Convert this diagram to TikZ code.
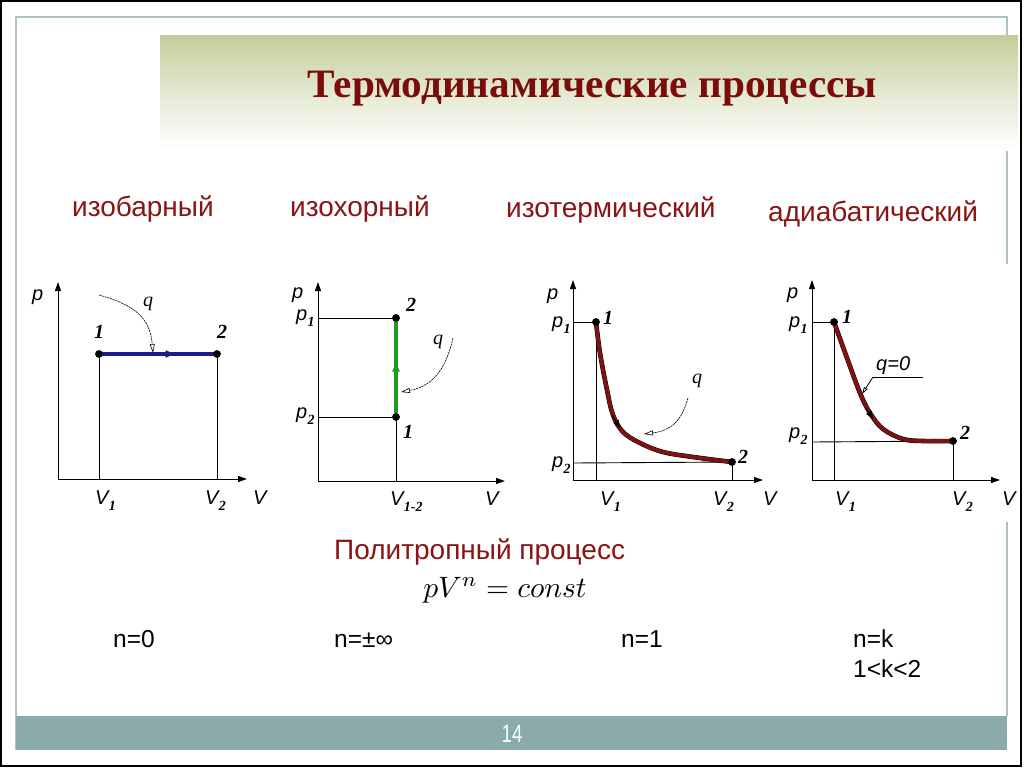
\documentclass[tikz,border=0pt]{standalone}
\usepackage{fontspec}
\usepackage{graphicx}
\setmainfont{Liberation Sans}
\newfontfamily\tnr{Liberation Serif}
\usetikzlibrary{arrows.meta,decorations.markings}
\definecolor{frameC}{HTML}{AEC0C6}
\definecolor{bandG}{HTML}{C3CE9B}
\definecolor{barC}{HTML}{8BABAB}
\definecolor{titleC}{HTML}{7A0C0C}
\definecolor{subC}{HTML}{8A1414}
\definecolor{navyC}{HTML}{1C1C8A}
\definecolor{greenC}{HTML}{1E9A1E}
\definecolor{curveC}{HTML}{7E1212}
\newcommand\sbs[2]{#1\kern0.3pt\raisebox{-0.32em}{\tnr\fontsize{14}{14}\selectfont\itshape\bfseries #2}}
\begin{document}
\begin{tikzpicture}[x=1pt,y=-1pt,
  axisline/.style={line width=1pt,-{Triangle[length=9pt,width=6pt]}},
  proj/.style={line width=0.9pt},
  ptdot/.style={circle,fill=black,inner sep=0pt,minimum size=7.5pt},
  axlab/.style={anchor=base west,inner sep=0pt,font=\fontsize{20}{20}\selectfont\itshape},
  ptlab/.style={anchor=base west,inner sep=0pt,font=\tnr\fontsize{20}{20}\selectfont\itshape\bfseries},
  qlab/.style={anchor=base west,inner sep=0pt,font=\tnr\fontsize{20}{20}\selectfont\itshape},
  qline/.style={line width=0.6pt,dash pattern=on 2.2pt off 0.7pt,-{Triangle[open,length=9pt,width=5pt]}},
  subtitle/.style={anchor=base west,inner sep=0pt,text=subC,font=\fontsize{28}{30}\selectfont},
  ntext/.style={anchor=base west,inner sep=0pt,font=\fontsize{24.5}{26}\selectfont},
  midarrow/.style={postaction={decorate},decoration={markings,mark=at position #1 with {\arrow{Triangle[length=9pt,width=7pt]}}}},
  blackedge/.style={line width=4.6pt,black,line cap=round},
  redcurve/.style={line width=3.8pt,curveC,line cap=round}
]
\useasboundingbox (0,0) rectangle (1024,768);
\fill[white] (0,0) rectangle (1024,768);
% outer and inner frames
\draw[line width=2.2pt] (1.1,1.1) rectangle (1021,766);
\draw[frameC,line width=1.5pt] (1007,36) -- (1007,17) -- (16,17) -- (16,750);
\draw[frameC,line width=1.5pt] (1007,150) -- (1007,264);
\draw[frameC,line width=1.5pt] (1007,522) -- (1007,716);
% title band
\shade[top color=bandG,bottom color=white,middle color=bandG!45] (160,36) rectangle (1018,150);
\node[text=titleC,inner sep=0pt] (title) at (592.5,89) {\resizebox*{569pt}{35pt}{\tnr\bfseries Термодинамические процессы}};
% footer bar
\fill[barC] (16,716) rectangle (1007,750);
\node[text=white,inner sep=0pt] (pagenum) at (512,734) {\scalebox{0.75}[1]{\fontsize{25}{25}\selectfont 14}};
% subtitles
\node[subtitle] (t1) at (72,216) {изобарный};
\node[subtitle] (t2) at (290,216) {изохорный};
\node[subtitle] (t3) at (506,217) {изотермический};
\node[subtitle] (t4) at (768,221) {адиабатический};

% ---------- graph 1: isobaric ----------
\coordinate (a0) at (58,479);
\coordinate (ay) at (58,282);
\coordinate (ax) at (247,479);
\draw[axisline] (a0) -- (ay);
\draw[axisline] (a0) -- (ax);
\node[ptdot] (a1) at (99,354) {};
\node[ptdot] (a2) at (217,354) {};
\coordinate (a1v) at (99,479);
\coordinate (a2v) at (217,479);
\draw[proj] (a1.center) -- (a1v);
\draw[proj] (a2.center) -- (a2v);
\draw[navyC,line width=3.2pt,midarrow=0.64] (a1.center) -- (a2.center);
\node[ptdot] at (a1) {};
\node[ptdot] at (a2) {};
\node[axlab] (ap) at (32,300) {p};
\node[axlab] (av1) at (95,504) {\sbs{V}{1}};
\node[axlab] (av2) at (205,504) {\sbs{V}{2}};
\node[axlab] (av) at (253,504) {V};
\node[ptlab] (an1) at (94,338) {1};
\node[ptlab] (an2) at (217,338) {2};
\node[qlab] (aq) at (143,306) {q};
\coordinate (aqs) at (99,295);
\coordinate (aqe) at (153,353);
\draw[qline] (aqs) .. controls (135,305) and (150,318) .. (aqe);

% ---------- graph 2: isochoric ----------
\coordinate (b0) at (318,481);
\coordinate (by) at (318,282);
\coordinate (bx) at (505,481);
\draw[axisline] (b0) -- (by);
\draw[axisline] (b0) -- (bx);
\node[ptdot] (b2) at (396,318) {};
\node[ptdot] (b1) at (396,417) {};
\coordinate (bp1) at (318,318);
\coordinate (bp2) at (318,417);
\coordinate (bv) at (396,481);
\draw[proj] (bp1) -- (b2.center);
\draw[proj] (bp2) -- (b1.center);
\draw[proj] (b1.center) -- (bv);
\draw[greenC,line width=3.2pt,midarrow=0.55] (b1.center) -- (b2.center);
\node[ptdot] at (b1) {};
\node[ptdot] at (b2) {};
\node[axlab] (bp) at (292,298) {p};
\node[axlab] (bl1) at (296,320) {\sbs{p}{1}};
\node[axlab] (bl2) at (296,418) {\sbs{p}{2}};
\node[ptlab] (bn2) at (406,311) {2};
\node[ptlab] (bn1) at (403,438) {1};
\node[axlab] (bv12) at (390,505) {\sbs{V}{1-2}};
\node[axlab] (bvv) at (485,505) {V};
\node[qlab] (bq) at (433,344) {q};
\coordinate (bqs) at (453,338);
\coordinate (bqe) at (401,392);
\draw[qline] (bqs) .. controls (447,365) and (435,386) .. (bqe);

% ---------- graph 3: isothermal ----------
\coordinate (c0) at (573,480);
\coordinate (cy) at (573,280);
\coordinate (cx) at (763,480);
\draw[axisline] (c0) -- (cy);
\draw[axisline] (c0) -- (cx);
\node[ptdot] (c1) at (596,322) {};
\node[ptdot] (c2) at (732,462) {};
\coordinate (cp1) at (573,322);
\coordinate (cp2) at (573,463);
\coordinate (cv1) at (596,480);
\coordinate (cv2) at (732,480);
\draw[proj] (cp1) -- (c1.center);
\draw[proj] (c1.center) -- (cv1);
\draw[proj] (cp2) -- (c2.center);
\draw[proj] (c2.center) -- (cv2);
\draw[blackedge] plot[smooth,tension=0.6] coordinates {(596,322) (600,353) (607,390) (613,415) (623,432) (640,443) (663,452) (693,457) (732,462)};
\draw[redcurve] plot[smooth,tension=0.6] coordinates {(596,322) (600,353) (607,390) (613,415) (623,432) (640,443) (663,452) (693,457) (732,462)};
\coordinate (cma) at (612,415);
\coordinate (cmb) at (620,428);
\draw[line width=1pt,-{Triangle[length=8pt,width=6pt]}] (cma) -- (cmb);
\node[ptdot] at (c1) {};
\node[ptdot] at (c2) {};
\node[axlab] (cp) at (547,299) {p};
\node[axlab] (cl1) at (552,327) {\sbs{p}{1}};
\node[axlab] (cl2) at (552,467) {\sbs{p}{2}};
\node[ptlab] (cn1) at (603,324) {1};
\node[ptlab] (cn2) at (738,463) {2};
\node[axlab] (cvl1) at (600,505) {\sbs{V}{1}};
\node[axlab] (cvl2) at (713,505) {\sbs{V}{2}};
\node[axlab] (cvv) at (763,505) {V};
\node[qlab] (cq) at (692,383) {q};
\coordinate (cqs) at (688,398);
\coordinate (cqe) at (644,434);
\draw[qline] (cqs) .. controls (683,415) and (676,430) .. (cqe);

% ---------- graph 4: adiabatic ----------
\coordinate (d0) at (812,480);
\coordinate (dy) at (812,280);
\coordinate (dx) at (1000,480);
\draw[axisline] (d0) -- (dy);
\draw[axisline] (d0) -- (dx);
\node[ptdot] (d1) at (834,322) {};
\node[ptdot] (d2) at (953,441) {};
\coordinate (dp1) at (812,322);
\coordinate (dp2) at (812,442);
\coordinate (dv1) at (834,480);
\coordinate (dv2) at (953,480);
\draw[proj] (dp1) -- (d1.center);
\draw[proj] (d1.center) -- (dv1);
\draw[proj] (dp2) -- (d2.center);
\draw[proj] (d2.center) -- (dv2);
\draw[blackedge] plot[smooth,tension=0.6] coordinates {(834,322) (847,358) (860,393) (870,413) (883,429) (903,439) (923,441) (953,441)};
\draw[redcurve] plot[smooth,tension=0.6] coordinates {(834,322) (847,358) (860,393) (870,413) (883,429) (903,439) (923,441) (953,441)};
\coordinate (dma) at (866,408);
\coordinate (dmb) at (873,419);
\draw[line width=1pt,-{Triangle[length=8pt,width=6pt]}] (dma) -- (dmb);
\node[ptdot] at (d1) {};
\node[ptdot] at (d2) {};
\node[axlab] (dp) at (787,298) {p};
\node[axlab] (dl1) at (789,327) {\sbs{p}{1}};
\node[axlab] (dl2) at (789,438) {\sbs{p}{2}};
\node[ptlab] (dn1) at (842,323) {1};
\node[ptlab] (dn2) at (960,439) {2};
\node[axlab] (dvl1) at (835,505) {\sbs{V}{1}};
\node[axlab] (dvl2) at (952,505) {\sbs{V}{2}};
\node[axlab] (dvv) at (1002,505) {V};
\node[anchor=base west,inner sep=0pt,font=\fontsize{20}{20}\selectfont\itshape] (dq) at (876,370) {q=0};
\coordinate (dqa) at (923,377);
\coordinate (dqb) at (873,377);
\coordinate (dqe) at (862,394);
\draw[line width=0.8pt] (dqa) -- (dqb);
\draw[line width=0.8pt,-{Triangle[open,length=7pt,width=4pt]}] (dqb) -- (dqe);

% ---------- polytropic ----------
\node[anchor=base west,inner sep=0pt,text=subC,font=\fontsize{28}{30}\selectfont] (poly) at (334,559) {Политропный процесс};
\node[inner sep=0pt,anchor=base] (formula) at (505,597) {\scalebox{2.95}{$pV^n = const$}};
\node[ntext] (n0) at (113,647) {n=0};
\node[ntext] (ninf) at (334,647) {n=±∞};
\node[ntext] (n1) at (621,647) {n=1};
\node[ntext] (nk) at (853,647) {n=k};
\node[ntext] (nk2) at (853,677) {1<k<2};
\end{tikzpicture}
\end{document}
